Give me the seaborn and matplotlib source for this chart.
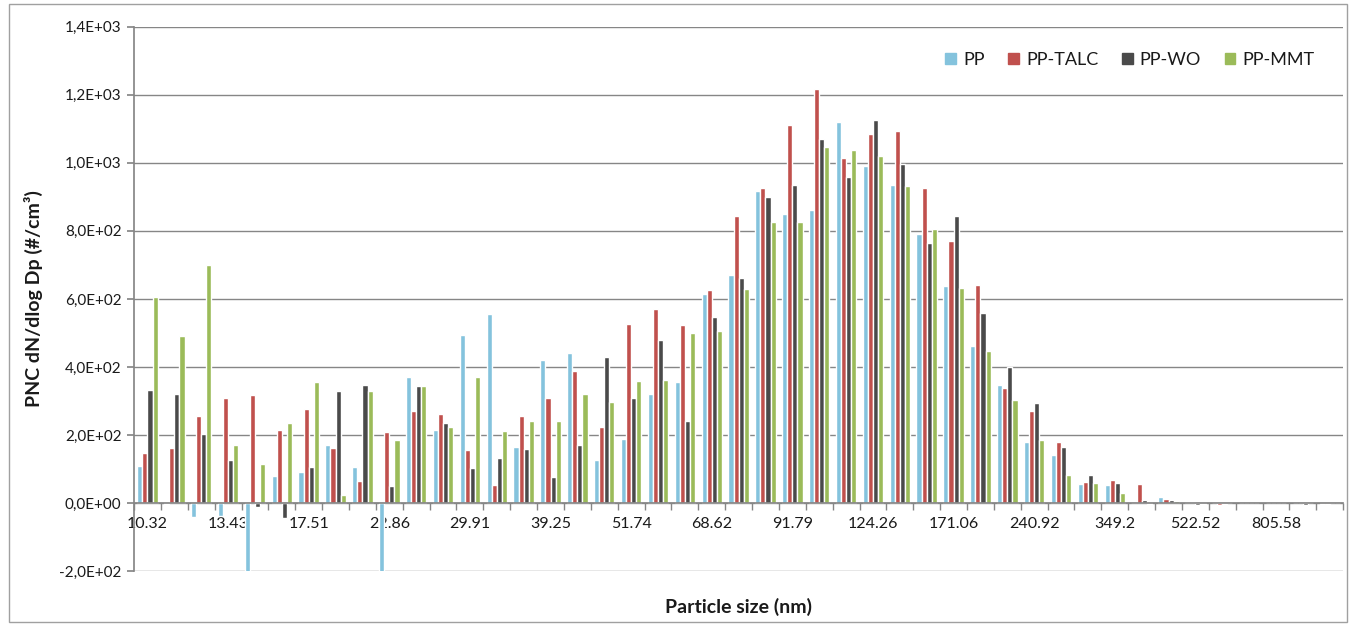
import matplotlib.pyplot as plt
import matplotlib.patches as mpatches
import matplotlib.ticker as mticker
import pandas as pd
import seaborn as sns

# particle size bins (only every third one is labelled on the axis)
sizes = ['10.32', '11.28', '12.32', '13.43', '14.64', '16.02', '17.51', '19.13',
         '20.92', '22.86', '25.00', '27.34', '29.91', '32.73', '35.84', '39.25',
         '43.00', '47.14', '51.74', '56.83', '62.47', '68.62', '75.42', '83.23',
         '91.79', '101.4', '112.2', '124.26', '138.0', '153.6', '171.06', '191.4',
         '214.6', '240.92', '271.7', '307.5', '349.2', '397.4', '455.3', '522.52',
         '600.7', '697.3', '805.58', '933.9', '1083.0']

pp = [110, -3, -42, -37, -203, 80, 92, 170, 106, -203, 369, 216, 493, 555, 166,
      419, 441, 126, 189, 321, 355, 614, 670, 917, 851, 861, 1119, 992, 935, 791,
      637, 462, 346, 178, 142, 57, 52, 0, 19, 4, 0, 0, 0, 0, -2]
pp_talc = [148, 163, 257, 309, 317, 216, 276, 163, 66, 209, 269, 261, 156, 54, 257,
           310, 389, 224, 527, 569, 524, 625, 843, 926, 1112, 1217, 1014, 1086, 1094,
           926, 771, 641, 337, 271, 179, 63, 67, 57, 11, 3, -6, 0, 0, 0, -2]
pp_wo = [332, 320, 204, 126, -13, -45, 106, 328, 348, 50, 344, 235, 103, 133, 160,
         77, 170, 430, 310, 479, 242, 547, 662, 899, 936, 1070, 958, 1127, 998, 764,
         844, 559, 400, 294, 164, 82, 60, 8, 8, -5, -2, 0, 0, -5, 0]
pp_mmt = [606, 490, 701, 171, 114, 235, 355, 24, 328, 186, 344, 224, 370, 213, 242,
          242, 321, 298, 360, 363, 501, 505, 630, 827, 827, 1048, 1038, 1021, 932,
          806, 633, 447, 304, 186, 82, 60, 30, -4, 7, -3, 0, 0, 0, 0, 0]

samples = ['PP', 'PP-TALC', 'PP-WO', 'PP-MMT']
colors = ['#84C3DD', '#C0504D', '#4A4A4A', '#9BBB59']

if __name__ == '__main__':
    # long-form table for seaborn
    rows = []
    for name, vals in zip(samples, [pp, pp_talc, pp_wo, pp_mmt]):
        for s, v in zip(sizes, vals):
            rows.append({'size': s, 'value': v, 'sample': name})
    df = pd.DataFrame(rows)

    sns.set_theme(style='white')
    plt.rcParams['font.family'] = ['Lato', 'DejaVu Sans']
    grid_color = '#868686'
    text_color = '#1A1A1A'

    f = plt.figure(figsize=(13.54, 6.27), dpi=100)
    ax = f.add_axes([0.099, 0.0893, 0.893, 0.868])
    sns.barplot(data=df, x='size', y='value', hue='sample', order=sizes,
                hue_order=samples, palette=colors, width=0.76, saturation=1,
                ax=ax)

    # y axis
    ax.set_ylim(-200, 1400)
    ax.set_yticks(range(-200, 1401, 200))
    ax.yaxis.set_major_formatter(
        mticker.FuncFormatter(lambda v, p: f'{v:.1E}'.replace('.', ',')))
    ax.grid(axis='y', color=grid_color, linewidth=1)
    ax.set_axisbelow(True)
    ax.tick_params(axis='y', direction='out', length=5, color=grid_color,
                   labelsize=11, labelcolor=text_color, pad=4, left=True)
    ax.set_ylabel('PNC dN/dlog Dp (#/cm³)', fontsize=14, fontweight='bold',
                  color=text_color, labelpad=12)

    # x axis sits on the zero line
    ax.set_xlim(-0.5, len(sizes) - 0.5)
    ax.spines['bottom'].set_position(('data', 0))
    ax.spines['bottom'].set_color(grid_color)
    ax.spines['left'].set_color(grid_color)
    ax.spines['top'].set_visible(False)
    ax.spines['right'].set_visible(False)
    ax.set_xticks(range(0, len(sizes), 3))
    ax.set_xticklabels(sizes[::3])
    ax.set_xticks([i - 0.5 for i in range(len(sizes) + 1)], minor=True)
    ax.tick_params(axis='x', which='major', length=0, labelsize=11.5,
                   labelcolor=text_color, pad=10)
    ax.tick_params(axis='x', which='minor', direction='out', length=5,
                   color=grid_color, bottom=True)
    ax.set_xlabel('Particle size (nm)', fontsize=14, fontweight='bold',
                  color=text_color)
    ax.xaxis.set_label_coords(0.5, -0.05)

    # legend
    handles = [mpatches.Patch(color=c, label=s) for s, c in zip(samples, colors)]
    ax.legend(handles=handles, ncol=4, loc='center right', frameon=False,
              bbox_to_anchor=(0.99, 0.939), fontsize=13, handlelength=0.6,
              handleheight=0.6, handletextpad=0.4, columnspacing=1.3,
              labelcolor=text_color)

    # chart border
    f.patches.append(mpatches.Rectangle((0.007, 0.008), 0.988, 0.985,
                                        transform=f.transFigure, fill=False,
                                        edgecolor='#A0A0A0', linewidth=1))

    plt.savefig('out.png', dpi=100, facecolor='white')
